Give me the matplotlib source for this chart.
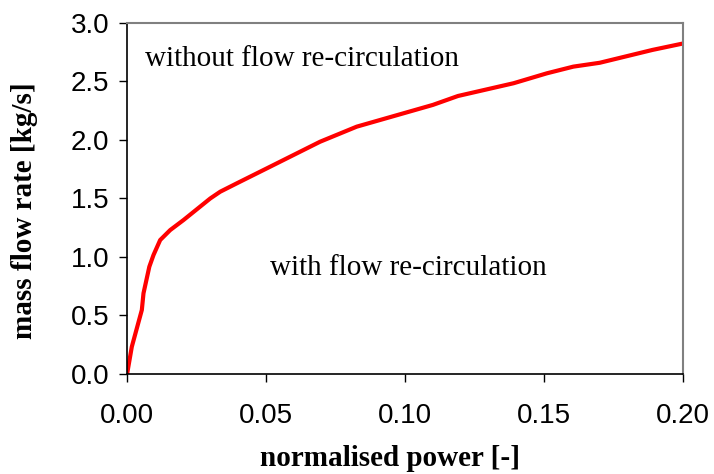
import matplotlib
matplotlib.use("Agg")
import matplotlib.pyplot as plt
from matplotlib.ticker import FormatStrFormatter

# normalised power vs mass flow rate
power = [0.0, 0.0017, 0.0053, 0.0059, 0.008, 0.0095, 0.0119, 0.0155, 0.0203,
         0.0299, 0.0335, 0.0395, 0.0503, 0.0694, 0.0826, 0.110, 0.119,
         0.139, 0.151, 0.1605, 0.170, 0.189, 0.200]
flow = [0.0, 0.233, 0.547, 0.69, 0.917, 1.017, 1.145, 1.23, 1.316,
        1.50, 1.558, 1.63, 1.758, 1.985, 2.114, 2.30, 2.376,
        2.485, 2.57, 2.627, 2.66, 2.77, 2.825]

x_ticks = [0.0, 0.05, 0.10, 0.15, 0.20]
y_ticks = [0.0, 0.5, 1.0, 1.5, 2.0, 2.5, 3.0]

fig = plt.figure(figsize=(7.14, 4.74), dpi=100)
ax = fig.add_axes([0.178, 0.211, 0.7788, 0.7405])

ax.plot(power, flow, color="#ff0000", linewidth=3, solid_capstyle="butt")

ax.set_xlim(0, 0.2)
ax.set_ylim(0, 3.0)
ax.set_xticks(x_ticks)
ax.set_yticks(y_ticks)
ax.xaxis.set_major_formatter(FormatStrFormatter("%.2f"))
ax.yaxis.set_major_formatter(FormatStrFormatter("%.1f"))
ax.tick_params(direction="out", length=6, width=1, labelsize=20)
ax.tick_params(axis="x", pad=15)
ax.tick_params(axis="y", pad=7)
for lab in ax.get_xticklabels() + ax.get_yticklabels():
    lab.set_family("Liberation Sans")

for s in ["top", "right"]:
    ax.spines[s].set_color("#808080")
    ax.spines[s].set_linewidth(1.5)
for s in ["left", "bottom"]:
    ax.spines[s].set_color("black")
    ax.spines[s].set_linewidth(1.2)

ax.set_xlabel("normalised power [-]", family="Liberation Serif",
              fontweight="bold", fontsize=21, va="baseline", ha="center")
ax.set_ylabel("mass flow rate [kg/s]", family="Liberation Serif",
              fontweight="bold", fontsize=21, va="center", ha="center")
ax.xaxis.set_label_coords(0.473, -0.262)
ax.yaxis.set_label_coords(-0.184, 0.464)

ax.text(0.0065, 2.632, "without flow re-circulation", family="Liberation Serif",
        fontsize=21, va="baseline", ha="left")
ax.text(0.0515, 0.846, "with flow re-circulation", family="Liberation Serif",
        fontsize=21, va="baseline", ha="left")

fig.savefig("out.png", dpi=100)
